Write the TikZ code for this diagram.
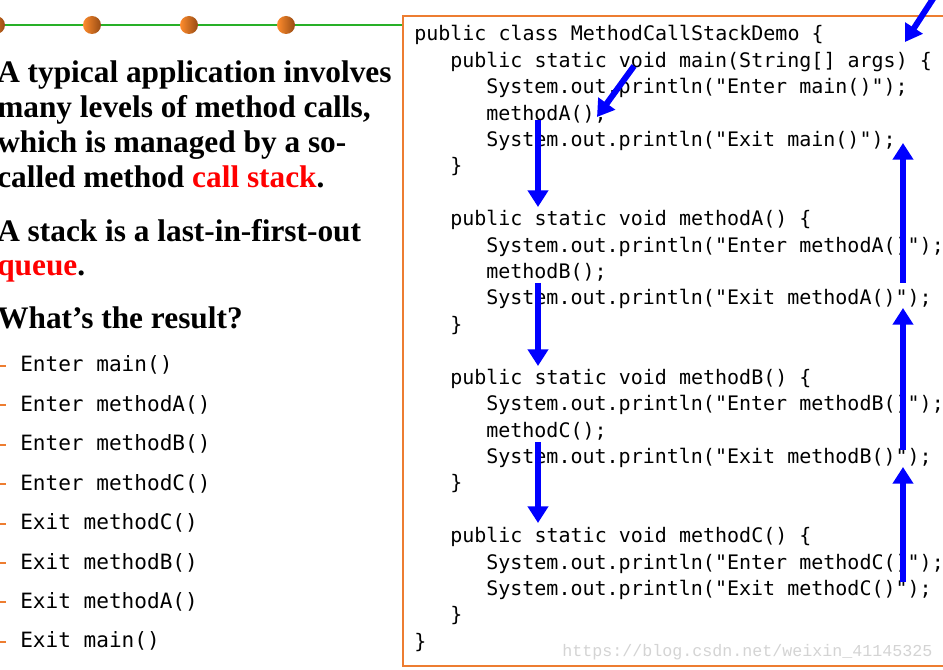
\documentclass[tikz,border=0pt]{standalone}
\usepackage{fontspec}
\setmonofont{DejaVu Sans Mono}
\newfontfamily\slidefont{Liberation Serif}
\newfontfamily\wmfont{Liberation Mono}
\usetikzlibrary{arrows.meta}
\definecolor{boxorange}{RGB}{237,125,49}
\definecolor{linegreen}{RGB}{40,176,40}
\definecolor{balllight}{RGB}{255,140,45}
\definecolor{balldark}{RGB}{150,75,20}
\definecolor{wmgray}{RGB}{212,212,212}
\tikzset{
  code/.style={anchor=base west, inner sep=0pt, font=\ttfamily\fontsize{15pt}{18pt}\selectfont},
  slidetext/.style={anchor=base west, inner sep=0pt, font=\slidefont\bfseries\fontsize{23.5pt}{28pt}\selectfont},
  result/.style={anchor=base west, inner sep=0pt, font=\ttfamily\fontsize{15.8pt}{19pt}\selectfont},
  bulletdash/.style={draw=boxorange, line width=1.5pt},
  flow/.style={draw=blue, line width=4.5pt, -{Triangle[width=15pt,length=12.5pt]}},
  ball/.style={left color=balllight, right color=balldark},
  wm/.style={anchor=base west, inner sep=0pt, text=wmgray, font=\wmfont\fontsize{12.5pt}{15pt}\selectfont},
}
\begin{document}
\begin{tikzpicture}[x=0.75pt,y=-0.75pt]
\clip (0,0) rectangle (943,670);
\fill[white] (0,0) rectangle (943,670);
% top decoration
\draw[linegreen, line width=1.5pt] (-10,25) -- (403,25);
\foreach \bx in {-4,92,189,286} {
  \shade[ball] (\bx,25) circle (6.75pt);
}
% code box
\draw[boxorange, line width=1.8pt] (960,16) -- (403,16) -- (403,666) -- (960,666);
% left text
\node[slidetext] (t1) at (-3,83) {A typical application involves};
\node[slidetext] (t2) at (-3,118) {many levels of method calls,};
\node[slidetext] (t3) at (-3,153) {which is managed by a so-};
\node[slidetext] (t4) at (-3,188) {called method \textcolor{red}{call stack}.};
\node[slidetext] (t5) at (-3,242) {A stack is a last-in-first-out};
\node[slidetext] (t6) at (-3,276) {\textcolor{red}{queue}.};
\node[slidetext] (t7) at (-3,329) {What’s the result?};
% results
\foreach \i/\txt in {0/Enter main(),1/Enter methodA(),2/Enter methodB(),3/Enter methodC(),4/Exit methodC(),5/Exit methodB(),6/Exit methodA(),7/Exit main()} {
  \node[result] (r\i) at (20,372+39.4*\i) {\txt};
  \draw[bulletdash] (-2,366+39.4*\i) -- (6,366+39.4*\i);
}
% code
\node[code] (c0) at (414,41) {public class MethodCallStackDemo \{};
\node[code] (c1) at (450,67.4) {public static void main(String[] args) \{};
\node[code] (c2) at (486,93.8) {System.out.println("Enter main()");};
\node[code] (c3) at (486,120.2) {methodA();};
\node[code] (c4) at (486,146.6) {System.out.println("Exit main()");};
\node[code] (c5) at (450,173) {\}};
\node[code] (c7) at (450,225.8) {public static void methodA() \{};
\node[code] (c8) at (486,252.2) {System.out.println("Enter methodA()");};
\node[code] (c9) at (486,278.6) {methodB();};
\node[code] (c10) at (486,305) {System.out.println("Exit methodA()");};
\node[code] (c11) at (450,331.4) {\}};
\node[code] (c13) at (450,384.2) {public static void methodB() \{};
\node[code] (c14) at (486,410.6) {System.out.println("Enter methodB()");};
\node[code] (c15) at (486,437) {methodC();};
\node[code] (c16) at (486,463.4) {System.out.println("Exit methodB()");};
\node[code] (c17) at (450,489.8) {\}};
\node[code] (c19) at (450,542.6) {public static void methodC() \{};
\node[code] (c20) at (486,569) {System.out.println("Enter methodC()");};
\node[code] (c21) at (486,595.4) {System.out.println("Exit methodC()");};
\node[code] (c22) at (450,621.8) {\}};
\node[code] (c23) at (414,648.2) {\}};
% watermark
\node[wm] (wm) at (562,656) {https://blog.csdn.net/weixin\_41145325};
% arrow end points
\coordinate (a0s) at (940,-12);  \coordinate (a0e) at (905,42);
\coordinate (a1s) at (634,66);   \coordinate (a1e) at (597,117);
\coordinate (d1s) at (538,120);  \coordinate (d1e) at (538,207);
\coordinate (d2s) at (538,283);  \coordinate (d2e) at (538,366);
\coordinate (d3s) at (538,442);  \coordinate (d3e) at (538,523);
\coordinate (u1s) at (903,283);  \coordinate (u1e) at (903,143);
\coordinate (u2s) at (903,450);  \coordinate (u2e) at (903,308);
\coordinate (u3s) at (903,582);  \coordinate (u3e) at (903,467);
\draw[flow] (a0s) -- (a0e);
\draw[flow] (a1s) -- (a1e);
\draw[flow] (d1s) -- (d1e);
\draw[flow] (d2s) -- (d2e);
\draw[flow] (d3s) -- (d3e);
\draw[flow] (u1s) -- (u1e);
\draw[flow] (u2s) -- (u2e);
\draw[flow] (u3s) -- (u3e);
\end{tikzpicture}
\end{document}
